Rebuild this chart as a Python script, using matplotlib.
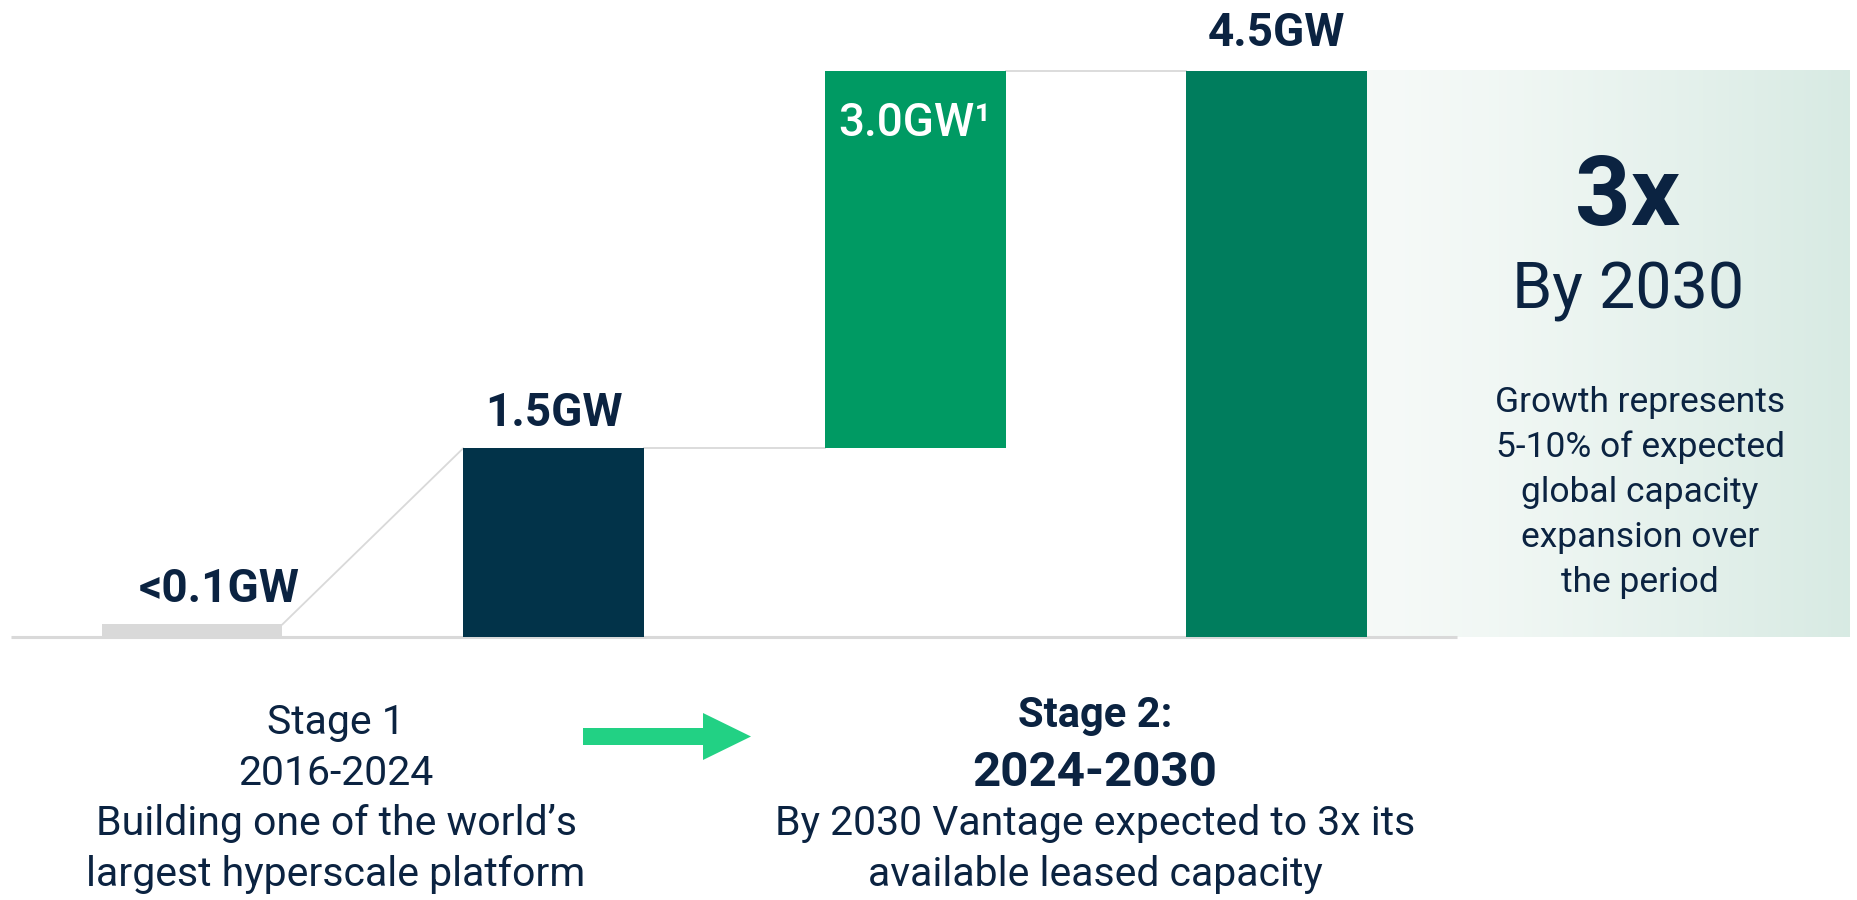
import matplotlib.pyplot as plt
import matplotlib.patches as patches
import matplotlib.transforms as mtrans
import numpy as np

# data
steps = ["<0.1GW", "1.5GW", "3.0GW\u00b9", "4.5GW"]
step_values = [0.1, 1.5, 3.0]         # increments (GW)
total_value = 4.5
bar_colors = ["#D9D9D9", "#023349", "#009A63", "#007D5D"]

navy = "#0B2341"
grey = "#D9D9D9"
plt.rcParams['font.family'] = ['Roboto', 'DejaVu Sans']

# waterfall: first bar from 0, second from 0, third floats on second, last is total
bottoms = [0, 0, step_values[1], 0]
heights = [step_values[0], step_values[1], step_values[2], total_value]
xs = np.arange(len(heights))
width = 0.5

fig = plt.figure(figsize=(18.57, 9), dpi=100)
fig.patch.set_facecolor("white")

# chart axes (x = bar index, y = GW)
ax = fig.add_axes([0, 0, 1, 1])
ax.set_xlim(-0.531, 4.605)
ax.set_ylim(-2.091, 5.064)
ax.axis("off")

# gradient panel to the right of the total bar
grad = np.linspace(0, 1, 256).reshape(1, -1)
left_c = np.array([0.965, 0.980, 0.972])
right_c = np.array([0.845, 0.918, 0.890])
img = left_c + (right_c - left_c) * grad[..., None] ** 1.3
ax.imshow(img, extent=[xs[-1] + width / 2, 4.585, 0, total_value],
          aspect="auto", zorder=0)

ax.bar(xs, heights, width=width, bottom=bottoms, color=bar_colors, zorder=2)

# baseline
ax.plot([-0.5, 3.5], [0, 0], color=grey, lw=2.2, zorder=1, solid_capstyle="butt")

# connectors
ax.plot([xs[0] + width / 2, xs[1] - width / 2], [heights[0], heights[1]],
        color=grey, lw=1.3, zorder=1)
ax.plot([xs[1] + width / 2, xs[2] - width / 2], [heights[1], heights[1]],
        color=grey, lw=1.3, zorder=1)
ax.plot([xs[2] + width / 2, xs[3] - width / 2], [total_value, total_value],
        color=grey, lw=1.3, zorder=1)


def shifted(dx, dy):
    return ax.transData + mtrans.ScaledTranslation(dx, dy, fig.dpi_scale_trans)


# bar labels
lab_kw = dict(ha="center", va="baseline", fontsize=33, fontweight="bold", color=navy)
ax.text(xs[0] + 0.075, heights[0], steps[0], transform=shifted(0, 0.22), **lab_kw)
ax.text(xs[1], heights[1], steps[1], transform=shifted(0, 0.22), **lab_kw)
ax.text(xs[3], total_value, steps[3], transform=shifted(0, 0.25), **lab_kw)
ax.text(xs[2] - width / 2, total_value, steps[2], ha="left", va="top",
        fontsize=33, color="white", fontweight="medium",
        transform=shifted(0.14, -0.3))

# overlay axes in slide pixel coordinates for the annotation text
ov = fig.add_axes([0, 0, 1, 1])
ov.set_xlim(0, 1857)
ov.set_ylim(900, 0)
ov.axis("off")
ov.patch.set_alpha(0)

ov.text(1628, 225, "3x", ha="center", va="baseline", fontsize=70,
        fontweight="bold", color=navy)
ov.text(1628, 308, "By 2030", ha="center", va="baseline", fontsize=46.5, color=navy)
para = ["Growth represents", "5-10% of expected", "global capacity",
        "expansion over", "the period"]
for k, line in enumerate(para):
    ov.text(1640, 412 + 45 * k, line, ha="center", va="baseline",
            fontsize=25.5, color=navy)

stage1 = ["Stage 1", "2016-2024", "Building one of the world\u2019s",
          "largest hyperscale platform"]
for line, yb in zip(stage1, [734, 785, 835, 886]):
    ov.text(336, yb, line, ha="center", va="baseline", fontsize=29.5, color=navy)

stage2 = ["Stage 2:", "2024-2030", "By 2030 Vantage expected to 3x its",
          "available leased capacity"]
s2_size = [30, 35.5, 29.5, 29.5]
s2_weight = ["bold", "bold", "normal", "normal"]
for line, yb, fs, fw in zip(stage2, [727, 786, 835, 886], s2_size, s2_weight):
    ov.text(1095, yb, line, ha="center", va="baseline", fontsize=fs,
            fontweight=fw, color=navy)

# arrow between the stages
arrow = patches.Polygon([[583, 728], [703, 728], [703, 713], [751, 736.5],
                         [703, 760], [703, 745], [583, 745]],
                        closed=True, color="#22D184", lw=0)
ov.add_patch(arrow)

fig.savefig("out.png", dpi=100)
